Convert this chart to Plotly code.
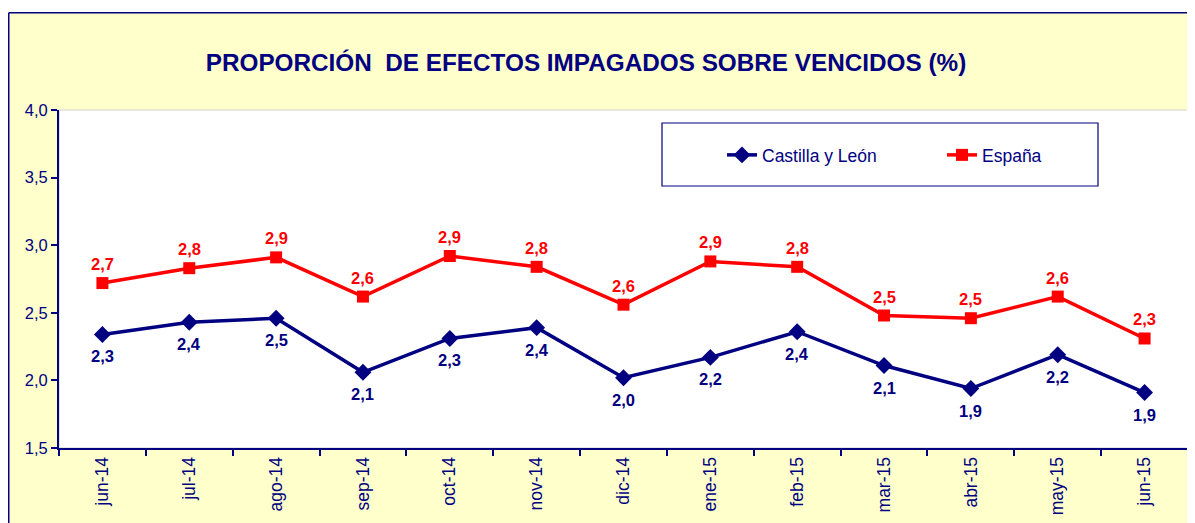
import plotly.graph_objects as go

categories = ["jun-14", "jul-14", "ago-14", "sep-14", "oct-14", "nov-14", "dic-14",
              "ene-15", "feb-15", "mar-15", "abr-15", "may-15", "jun-15"]
castilla_leon = [2.34, 2.43, 2.46, 2.06, 2.31, 2.39, 2.02, 2.17, 2.36, 2.11, 1.94, 2.19, 1.91]
espana = [2.72, 2.83, 2.91, 2.62, 2.92, 2.84, 2.56, 2.88, 2.84, 2.48, 2.46, 2.62, 2.31]
y_ticks = [1.5, 2.0, 2.5, 3.0, 3.5, 4.0]

NAVY = "#000080"
RED = "#FF0000"
YELLOW = "#FFFFCC"
FONT = "Liberation Sans, Arial, sans-serif"

# page body has an 8px margin; figure coords = screen coords - 8
OFF = 8
W, H = 1195 - OFF, 523 - OFF
L, R, T, B = 59 - OFF, 7, 110 - OFF, 75
PW, PH = W - L - R, H - T - B


def px(sx):
    return (sx - OFF - L) / PW


def py(sy):
    return (H - B - (sy - OFF)) / PH


def fmt(v):
    return f"{v:.1f}".replace(".", ",")


fig = go.Figure()
fig.add_trace(go.Scatter(
    x=categories, y=castilla_leon, name="Castilla y León",
    mode="lines+markers",
    line=dict(color=NAVY, width=3.5),
    marker=dict(symbol="diamond", size=13, color=NAVY),
))
fig.add_trace(go.Scatter(
    x=categories, y=espana, name="España",
    mode="lines+markers",
    line=dict(color=RED, width=3.5),
    marker=dict(symbol="square", size=12, color=RED),
))

annotations = []
for c, v in zip(categories, castilla_leon):
    annotations.append(dict(x=c, y=v, xref="x", yref="y", text=f"<b>{fmt(v)}</b>",
                            showarrow=False, yshift=-22,
                            font=dict(family=FONT, size=16.5, color=NAVY)))
for c, v in zip(categories, espana):
    annotations.append(dict(x=c, y=v, xref="x", yref="y", text=f"<b>{fmt(v)}</b>",
                            showarrow=False, yshift=19,
                            font=dict(family=FONT, size=16.5, color=RED)))

shapes = [
    # white outside strips (top, left)
    dict(type="rect", xref="paper", yref="paper", x0=px(-40), x1=px(1240), y0=py(12), y1=py(-40),
         fillcolor="white", line=dict(width=0), layer="below"),
    dict(type="rect", xref="paper", yref="paper", x0=px(-40), x1=px(8), y0=py(560), y1=py(-40),
         fillcolor="white", line=dict(width=0), layer="below"),
    # chart border
    dict(type="line", xref="paper", yref="paper", x0=px(8.75), x1=px(1240), y0=py(12.75), y1=py(12.75),
         line=dict(color=NAVY, width=1.5)),
    dict(type="line", xref="paper", yref="paper", x0=px(8.75), x1=px(8.75), y0=py(12.75), y1=py(560),
         line=dict(color=NAVY, width=1.5)),
    # plot area light frame
    dict(type="rect", xref="paper", yref="paper", x0=0, x1=1, y0=0, y1=1,
         line=dict(color="#D0D0D0", width=1), layer="below"),
    # legend box
    dict(type="rect", xref="paper", yref="paper", x0=px(662), x1=px(1098), y0=py(186), y1=py(123),
         fillcolor="white", line=dict(color=NAVY, width=1.2), layer="below"),
]

fig.update_layout(
    width=W, height=H,
    margin=dict(l=L, r=R, t=T, b=B),
    paper_bgcolor=YELLOW, plot_bgcolor="white",
    separators=",.",
    font=dict(family=FONT, color=NAVY),
    title=dict(text="<b>PROPORCIÓN  DE EFECTOS IMPAGADOS SOBRE VENCIDOS (%)</b>",
               xref="container", x=(586 - OFF) / W, xanchor="center",
               yref="container", y=1 - (62 - OFF) / H, yanchor="middle",
               font=dict(family=FONT, size=24.3, color=NAVY)),
    showlegend=True,
    legend=dict(orientation="h", x=px(722), xanchor="left", y=py(155), yanchor="middle",
                bgcolor="rgba(0,0,0,0)", borderwidth=0,
                font=dict(family=FONT, size=17.5, color=NAVY),
                entrywidth=175, entrywidthmode="pixels"),
    shapes=shapes,
    annotations=annotations,
    xaxis=dict(type="category", showline=True, linecolor=NAVY, linewidth=2,
               ticks="outside", tickson="boundaries", tickcolor=NAVY, ticklen=6, tickwidth=1.5,
               tickangle=-90, tickfont=dict(family=FONT, size=17.5, color=NAVY),
               showgrid=False, zeroline=False, range=[-0.5, len(categories) - 0.5]),
    yaxis=dict(range=[1.5, 4.0], tickvals=y_ticks, tickformat=".1f",
               showline=True, linecolor=NAVY, linewidth=2,
               ticks="outside", tickcolor=NAVY, ticklen=6, tickwidth=1.5,
               tickfont=dict(family=FONT, size=16.5, color=NAVY),
               showgrid=False, zeroline=False),
)

fig.write_html("out.html")
